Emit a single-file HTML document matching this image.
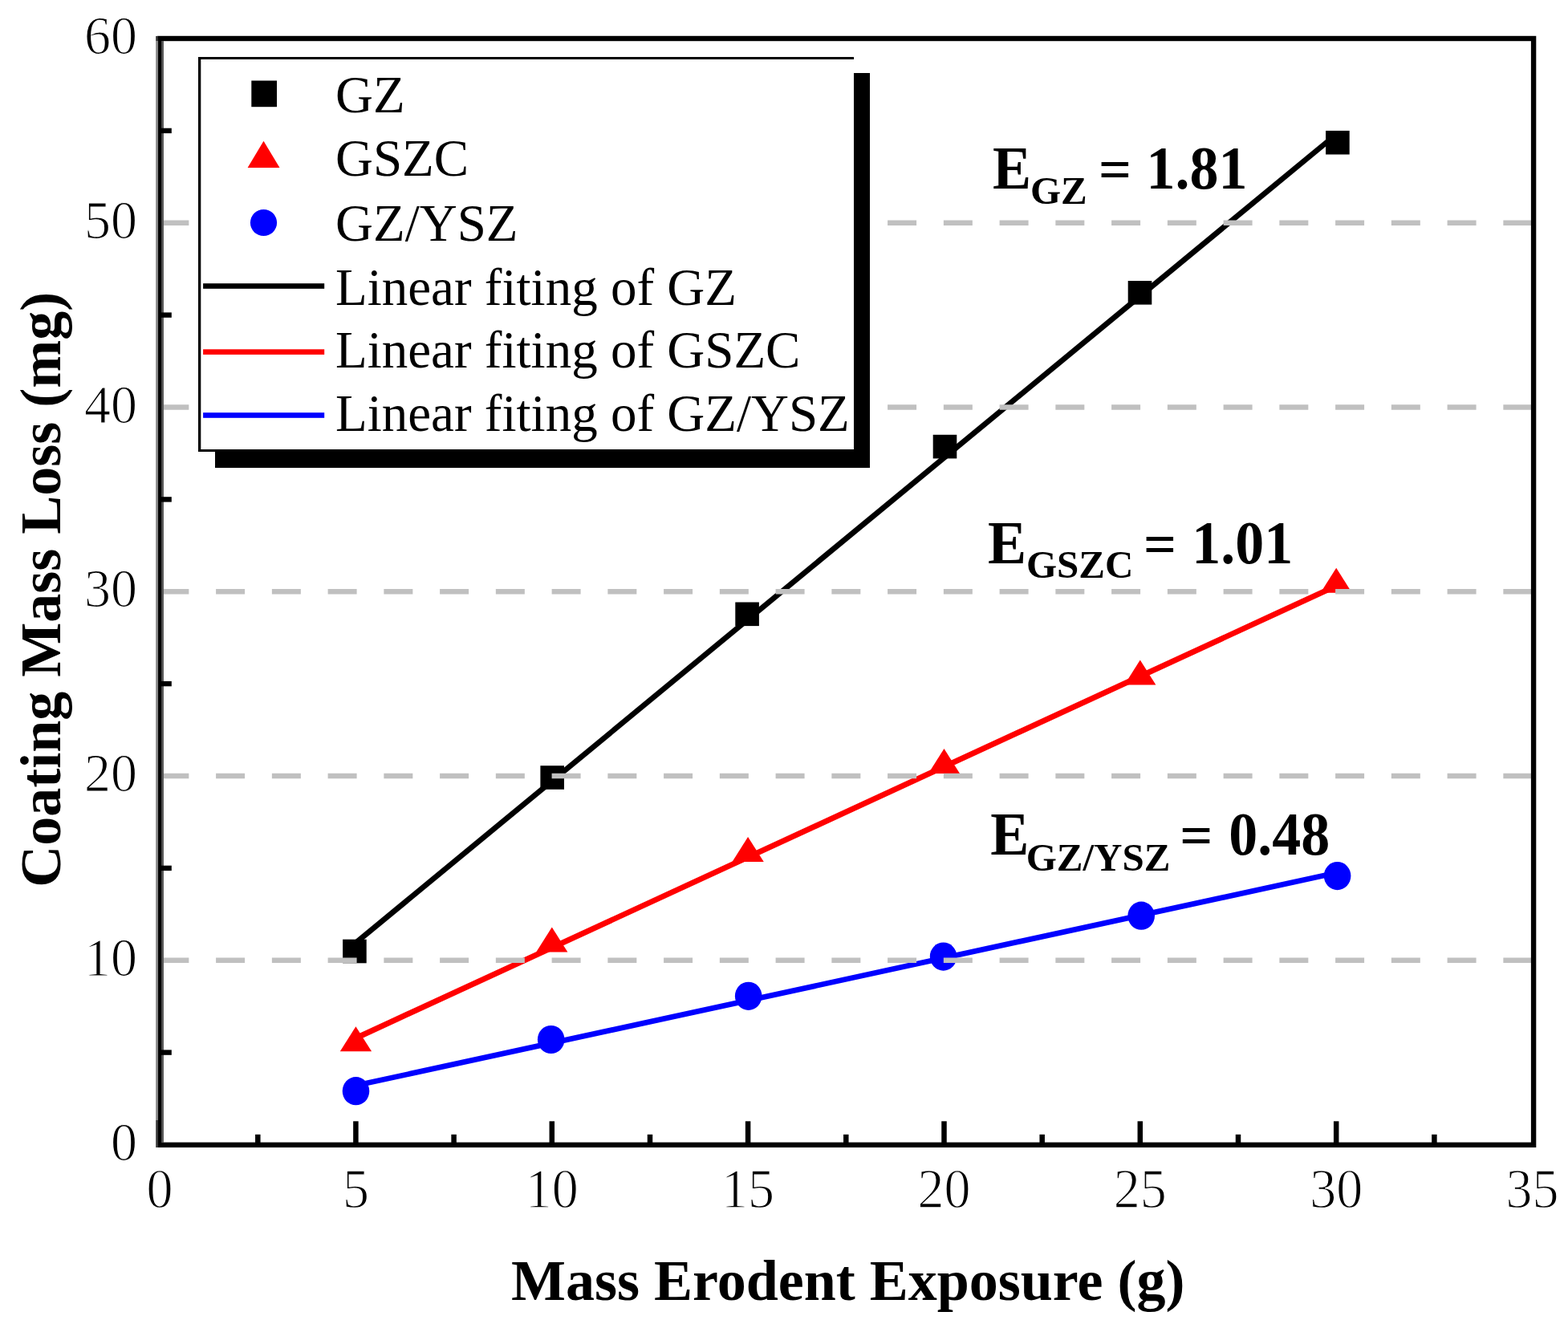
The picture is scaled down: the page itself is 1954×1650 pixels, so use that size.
<!DOCTYPE html><html><head><meta charset="utf-8"><style>html,body{margin:0;padding:0;background:#fff;width:1954px;height:1650px;overflow:hidden}svg{display:block}text{font-family:"Liberation Serif","Times New Roman",serif}.tk{stroke:#fff;stroke-width:1.2px}</style></head><body>
<svg width="1954" height="1650" viewBox="0 0 1954 1650">
<rect x="0" y="0" width="1954" height="1650" fill="#fff"/>
<line x1="443.4" y1="1174.9" x2="1665.2" y2="167.5" stroke="#000" stroke-width="6.8"/>
<line x1="443.4" y1="1293.7" x2="1665.2" y2="730.1" stroke="#f00" stroke-width="7"/>
<line x1="443.4" y1="1352.8" x2="1665.2" y2="1087.8" stroke="#00f" stroke-width="6.8"/>
<rect x="427.1" y="1170.7" width="29.6" height="29.6" fill="#000"/>
<rect x="673.4" y="954.2" width="29.6" height="29.6" fill="#000"/>
<rect x="916.3" y="750.5" width="29.6" height="29.6" fill="#000"/>
<rect x="1162.7" y="541.8" width="29.6" height="29.6" fill="#000"/>
<rect x="1405.7" y="350.0" width="29.6" height="29.6" fill="#000"/>
<rect x="1652.1" y="162.9" width="29.6" height="29.6" fill="#000"/>
<polygon points="443.4,1279.2 463.1,1310.2 423.8,1310.2" fill="#f00"/>
<polygon points="687.8,1155.5 707.4,1186.5 668.2,1186.5" fill="#f00"/>
<polygon points="932.1,1043.1 951.8,1074.1 912.5,1074.1" fill="#f00"/>
<polygon points="1176.5,933.0 1196.1,964.0 1156.9,964.0" fill="#f00"/>
<polygon points="1420.8,822.4 1440.4,853.4 1401.2,853.4" fill="#f00"/>
<polygon points="1665.2,707.7 1684.8,738.7 1645.6,738.7" fill="#f00"/>
<ellipse cx="443.5" cy="1359.7" rx="16.8" ry="17.6" fill="#00f"/>
<ellipse cx="686.7" cy="1295.5" rx="16.8" ry="17.6" fill="#00f"/>
<ellipse cx="932.7" cy="1241.3" rx="16.8" ry="17.6" fill="#00f"/>
<ellipse cx="1175.6" cy="1192.1" rx="16.8" ry="17.6" fill="#00f"/>
<ellipse cx="1422.2" cy="1141.2" rx="16.8" ry="17.6" fill="#00f"/>
<ellipse cx="1666.6" cy="1091.6" rx="16.8" ry="17.6" fill="#00f"/>
<line x1="199.35" y1="1196.75" x2="1911" y2="1196.75" stroke="#c0c0c0" stroke-width="6.3" stroke-dasharray="36 33.75"/>
<line x1="199.35" y1="967.00" x2="1911" y2="967.00" stroke="#c0c0c0" stroke-width="6.3" stroke-dasharray="36 33.75"/>
<line x1="199.35" y1="737.25" x2="1911" y2="737.25" stroke="#c0c0c0" stroke-width="6.3" stroke-dasharray="36 33.75"/>
<line x1="199.35" y1="507.50" x2="1911" y2="507.50" stroke="#c0c0c0" stroke-width="6.3" stroke-dasharray="36 33.75"/>
<line x1="199.35" y1="277.75" x2="1911" y2="277.75" stroke="#c0c0c0" stroke-width="6.3" stroke-dasharray="36 33.75"/>
<rect x="199.1" y="48" width="1712" height="1378.8" fill="none" stroke="#000" stroke-width="6.4"/>
<rect x="194.2" y="51" width="3.1" height="1345" fill="#868686"/>
<rect x="194.2" y="45" width="3.1" height="6" fill="#333"/>
<rect x="194.2" y="1396" width="3.1" height="34" fill="#3a3a3a"/>
<rect x="197.2" y="45" width="4" height="1385" fill="#000"/>
<rect x="201.2" y="51" width="2.8" height="1373" fill="#5a5a5a"/>
<line x1="321.3" y1="1413.8" x2="321.3" y2="1426" stroke="#000" stroke-width="6.5"/>
<line x1="443.4" y1="1397.3" x2="443.4" y2="1426" stroke="#000" stroke-width="6.5"/>
<line x1="565.6" y1="1413.8" x2="565.6" y2="1426" stroke="#000" stroke-width="6.5"/>
<line x1="687.8" y1="1397.3" x2="687.8" y2="1426" stroke="#000" stroke-width="6.5"/>
<line x1="810.0" y1="1413.8" x2="810.0" y2="1426" stroke="#000" stroke-width="6.5"/>
<line x1="932.1" y1="1397.3" x2="932.1" y2="1426" stroke="#000" stroke-width="6.5"/>
<line x1="1054.3" y1="1413.8" x2="1054.3" y2="1426" stroke="#000" stroke-width="6.5"/>
<line x1="1176.5" y1="1397.3" x2="1176.5" y2="1426" stroke="#000" stroke-width="6.5"/>
<line x1="1298.7" y1="1413.8" x2="1298.7" y2="1426" stroke="#000" stroke-width="6.5"/>
<line x1="1420.8" y1="1397.3" x2="1420.8" y2="1426" stroke="#000" stroke-width="6.5"/>
<line x1="1543.0" y1="1413.8" x2="1543.0" y2="1426" stroke="#000" stroke-width="6.5"/>
<line x1="1665.2" y1="1397.3" x2="1665.2" y2="1426" stroke="#000" stroke-width="6.5"/>
<line x1="1787.4" y1="1413.8" x2="1787.4" y2="1426" stroke="#000" stroke-width="6.5"/>
<line x1="200" y1="1311.6" x2="213.8" y2="1311.6" stroke="#000" stroke-width="6.4"/>
<line x1="200" y1="1081.9" x2="213.8" y2="1081.9" stroke="#000" stroke-width="6.4"/>
<line x1="200" y1="852.1" x2="213.8" y2="852.1" stroke="#000" stroke-width="6.4"/>
<line x1="200" y1="622.4" x2="213.8" y2="622.4" stroke="#000" stroke-width="6.4"/>
<line x1="200" y1="392.6" x2="213.8" y2="392.6" stroke="#000" stroke-width="6.4"/>
<line x1="200" y1="162.9" x2="213.8" y2="162.9" stroke="#000" stroke-width="6.4"/>
<text transform="translate(199.1,1505) scale(1,1.06)" font-size="66" text-anchor="middle" class="tk">0</text>
<text transform="translate(443.4,1505) scale(1,1.06)" font-size="66" text-anchor="middle" class="tk">5</text>
<text transform="translate(687.8,1505) scale(1,1.06)" font-size="66" text-anchor="middle" class="tk">10</text>
<text transform="translate(932.1,1505) scale(1,1.06)" font-size="66" text-anchor="middle" class="tk">15</text>
<text transform="translate(1176.5,1505) scale(1,1.06)" font-size="66" text-anchor="middle" class="tk">20</text>
<text transform="translate(1420.8,1505) scale(1,1.06)" font-size="66" text-anchor="middle" class="tk">25</text>
<text transform="translate(1665.2,1505) scale(1,1.06)" font-size="66" text-anchor="middle" class="tk">30</text>
<text transform="translate(1909.5,1505) scale(1,1.06)" font-size="66" text-anchor="middle" class="tk">35</text>
<text transform="translate(171,1445.5) scale(1,1.04)" font-size="66" text-anchor="end" class="tk">0</text>
<text transform="translate(171,1215.8) scale(1,1.04)" font-size="66" text-anchor="end" class="tk">10</text>
<text transform="translate(171,986.0) scale(1,1.04)" font-size="66" text-anchor="end" class="tk">20</text>
<text transform="translate(171,756.2) scale(1,1.04)" font-size="66" text-anchor="end" class="tk">30</text>
<text transform="translate(171,526.5) scale(1,1.04)" font-size="66" text-anchor="end" class="tk">40</text>
<text transform="translate(171,296.8) scale(1,1.04)" font-size="66" text-anchor="end" class="tk">50</text>
<text transform="translate(171,67.0) scale(1,1.04)" font-size="66" text-anchor="end" class="tk">60</text>
<text x="637" y="1620" font-size="72" font-weight="bold">Mass Erodent Exposure (g)</text>
<text transform="translate(75,1105.8) rotate(-90)" font-size="72" font-weight="bold">Coating Mass Loss (mg)</text>
<text transform="translate(1237,235.2) scale(1,1.045)" font-size="72" font-weight="bold">E</text>
<text x="1284" y="254.3" font-size="49" font-weight="bold">GZ</text>
<text x="1369" y="235.2" font-size="72" font-weight="bold">=</text>
<text transform="translate(1428.6,235.2) scale(1,1.045)" font-size="72" font-weight="bold">1.81</text>
<text transform="translate(1231,701.6) scale(1,1.045)" font-size="72" font-weight="bold">E</text>
<text x="1279" y="719.5" font-size="49" font-weight="bold">GSZC</text>
<text x="1425" y="701.6" font-size="72" font-weight="bold">=</text>
<text transform="translate(1485.2,701.6) scale(1,1.045)" font-size="72" font-weight="bold">1.01</text>
<text transform="translate(1234.3,1065.4) scale(1,1.045)" font-size="72" font-weight="bold">E</text>
<text x="1278.7" y="1084.5" font-size="49" font-weight="bold">GZ/YSZ</text>
<text x="1470.2" y="1065.4" font-size="72" font-weight="bold">=</text>
<text transform="translate(1531.3,1065.4) scale(1,1.045)" font-size="72" font-weight="bold">0.48</text>
<rect x="268" y="563" width="816" height="20" fill="#000"/>
<rect x="1064" y="91" width="20" height="492" fill="#000"/>
<rect x="247" y="71" width="817" height="492" fill="#fff"/>
<rect x="247" y="71" width="817" height="3" fill="#000"/>
<rect x="247" y="71" width="3.3" height="492" fill="#000"/>
<rect x="247" y="560" width="817" height="3" fill="#000"/>
<rect x="313.3" y="100.5" width="31.7" height="32.7" fill="#000"/>
<polygon points="328.5,175.8 348.5,209 308.6,209" fill="#f00"/>
<circle cx="328.5" cy="277.5" r="16.6" fill="#00f"/>
<rect x="253.1" y="353.2" width="151.1" height="6.6" fill="#000"/>
<rect x="253.1" y="435.3" width="151.1" height="6.6" fill="#f00"/>
<rect x="253.1" y="514.2" width="151.1" height="6.6" fill="#00f"/>
<text x="418" y="139.8" font-size="65">GZ</text>
<text x="418" y="218.8" font-size="65">GSZC</text>
<text x="418" y="300" font-size="65">GZ/YSZ</text>
<text x="418" y="379.6" font-size="65">Linear fiting of GZ</text>
<text x="418" y="457.6" font-size="65">Linear fiting of GSZC</text>
<text x="418" y="536.5" font-size="65">Linear fiting of GZ/YSZ</text>
</svg></body></html>
